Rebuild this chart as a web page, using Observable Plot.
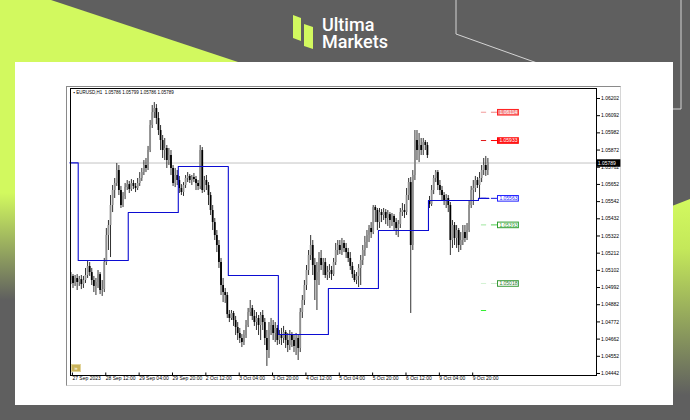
<!DOCTYPE html>
<html><head><meta charset="utf-8">
<script src="https://cdn.jsdelivr.net/npm/d3@7"></script>
<script src="https://cdn.jsdelivr.net/npm/@observablehq/plot@0.6"></script>
<style>
html,body{margin:0;padding:0;background:#5f5f5f;}
#stage{position:relative;width:690px;height:420px;overflow:hidden;background:#5f5f5f;}
#bg{position:absolute;left:0;top:0;}
#panel{position:absolute;left:15px;top:62px;width:658px;height:343px;background:#fff;}
#win{position:absolute;left:66px;top:86px;width:555px;height:300px;border:1px solid #d6d6d6;border-top-color:#8a8a8a;border-left-color:#8a8a8a;box-sizing:border-box;}
#chart{position:absolute;left:66px;top:84px;}
#icon{position:absolute;left:71px;top:364px;width:10px;height:8px;background:#c9b35c;border:1px solid #e2d49a;box-sizing:border-box;color:#fff;font:6px/6px 'Liberation Sans',sans-serif;text-align:center;}
</style></head>
<body>
<div id="stage">
<svg id="bg" width="690" height="420">
  <defs>
    <linearGradient id="gl" x1="0" y1="62" x2="0" y2="300" gradientUnits="userSpaceOnUse">
      <stop offset="0" stop-color="#d2f95f"/><stop offset="0.55" stop-color="#d2f95f"/><stop offset="1" stop-color="#5f5f5f"/>
    </linearGradient>
    <linearGradient id="gr" x1="0" y1="200" x2="0" y2="395" gradientUnits="userSpaceOnUse">
      <stop offset="0" stop-color="#d2f95f"/><stop offset="0.25" stop-color="#c4e85a"/><stop offset="1" stop-color="#5f5f5f"/>
    </linearGradient>
  </defs>
  <rect width="690" height="420" fill="#5f5f5f"/>
  <polygon points="0,0 51,0 238,62 0,62" fill="#d2f95f"/>
  <rect x="0" y="62" width="16" height="358" fill="url(#gl)"/>
  <polygon points="672,206 690,199 690,420 672,420" fill="url(#gr)"/>
  <polyline points="456,0 456,34 540,64" fill="none" stroke="#d4d4d4" stroke-width="1"/>
  <polyline points="681,0 681,109 672,109" fill="none" stroke="#d4d4d4" stroke-width="1"/>
  <polygon points="293,15 301,18 301,41 293,38" fill="#d2f95f"/>
  <polygon points="304,24 313,27 313,49 304,46" fill="#d2f95f"/>
  <text fill="#fff" font-family="Roboto, 'Liberation Sans', sans-serif" font-size="18" font-weight="500"><tspan x="322" y="31">Ultima</tspan><tspan x="322" y="48">Markets</tspan></text>
</svg>
<div id="panel"></div>
<div id="win"></div>
<div id="chart"></div>
<div id="icon">»</div>
</div>
<script>
// ---- data: EURUSD H1, bar index 0 = 27 Sep 2023 20:00 ----
const openP = [
1.05037,1.05063,1.05018,1.05050,1.05024,1.05043,1.05011,1.05037,1.05069,1.05127,
1.05088,1.05037,1.04999,1.05024,1.05075,1.04973,1.04979,1.05152,1.05325,1.05389,
1.05517,1.05613,1.05658,1.05741,1.05613,1.05517,1.05575,1.05632,1.05651,1.05619,
1.05658,1.05639,1.05626,1.05658,1.05690,1.05728,1.05773,1.05754,1.05869,1.06029,
1.06112,1.06138,1.06074,1.05997,1.05933,1.05869,1.05882,1.05805,1.05837,1.05754,
1.05658,1.05709,1.05677,1.05626,1.05600,1.05645,1.05690,1.05703,1.05677,1.05696,
1.05683,1.05658,1.05639,1.05869,1.05613,1.05677,1.05645,1.05581,1.05485,1.05408,
1.05325,1.05261,1.05152,1.05005,1.04960,1.04941,1.04819,1.04794,1.04826,1.04781,
1.04736,1.04698,1.04666,1.04640,1.04685,1.04749,1.04832,1.04858,1.04807,1.04768,
1.04794,1.04749,1.04813,1.04768,1.04666,1.04589,1.04717,1.04749,1.04698,1.04730,
1.04653,1.04685,1.04666,1.04704,1.04653,1.04621,1.04685,1.04653,1.04615,1.04666,
1.04602,1.04832,1.04909,1.05005,1.05101,1.05197,1.05261,1.05133,1.05037,1.05088,
1.05178,1.05133,1.05152,1.05069,1.05088,1.05101,1.05075,1.05152,1.05229,1.05261,
1.05229,1.05274,1.05242,1.05216,1.05178,1.05127,1.05075,1.05037,1.05063,1.05114,
1.05165,1.05229,1.05280,1.05325,1.05370,1.05344,1.05504,1.05485,1.05408,1.05472,
1.05453,1.05472,1.05434,1.05459,1.05421,1.05447,1.05408,1.05370,1.05395,1.05472,
1.05485,1.05472,1.05581,1.05664,1.05261,1.05709,1.05933,1.05869,1.05901,1.05869,
1.05920,1.05901,1.05549,1.05523,1.05613,1.05690,1.05728,1.05645,1.05613,1.05581,
1.05549,1.05562,1.05517,1.05293,1.05389,1.05306,1.05357,1.05261,1.05293,1.05344,
1.05306,1.05357,1.05517,1.05613,1.05626,1.05677,1.05645,1.05690,1.05741,1.05773,
1.05741];
const highP = [
1.05088,1.05075,1.05069,1.05075,1.05063,1.05069,1.05063,1.05114,1.05165,1.05152,
1.05114,1.05063,1.05050,1.05101,1.05088,1.05037,1.05178,1.05370,1.05421,1.05581,
1.05645,1.05690,1.05786,1.05773,1.05639,1.05600,1.05658,1.05677,1.05671,1.05683,
1.05677,1.05658,1.05690,1.05728,1.05754,1.05805,1.05818,1.05895,1.06061,1.06157,
1.06176,1.06163,1.06112,1.06029,1.05965,1.05946,1.05901,1.05882,1.05869,1.05773,
1.05754,1.05741,1.05703,1.05651,1.05664,1.05709,1.05728,1.05715,1.05709,1.05722,
1.05703,1.05677,1.05901,1.05888,1.05703,1.05709,1.05664,1.05600,1.05517,1.05434,
1.05357,1.05293,1.05178,1.05050,1.04986,1.04960,1.04845,1.04845,1.04839,1.04807,
1.04768,1.04730,1.04691,1.04717,1.04781,1.04858,1.04909,1.04877,1.04845,1.04832,
1.04813,1.04832,1.04845,1.04794,1.04717,1.04768,1.04794,1.04781,1.04768,1.04749,
1.04717,1.04730,1.04743,1.04717,1.04698,1.04717,1.04704,1.04685,1.04698,1.04685,
1.04858,1.04941,1.05037,1.05133,1.05229,1.05325,1.05293,1.05178,1.05152,1.05216,
1.05229,1.05178,1.05178,1.05127,1.05139,1.05127,1.05178,1.05274,1.05293,1.05293,
1.05306,1.05293,1.05274,1.05242,1.05216,1.05152,1.05101,1.05088,1.05139,1.05197,
1.05261,1.05319,1.05357,1.05389,1.05408,1.05517,1.05517,1.05498,1.05498,1.05491,
1.05498,1.05491,1.05485,1.05472,1.05466,1.05459,1.05434,1.05421,1.05498,1.05530,
1.05523,1.05626,1.05690,1.05696,1.05741,1.05997,1.05997,1.05978,1.05946,1.05946,
1.05933,1.05920,1.05575,1.05645,1.05709,1.05741,1.05741,1.05677,1.05639,1.05600,
1.05587,1.05581,1.05536,1.05421,1.05408,1.05389,1.05370,1.05344,1.05389,1.05389,
1.05402,1.05549,1.05639,1.05677,1.05703,1.05696,1.05728,1.05773,1.05818,1.05831,
1.05818];
const lowP = [
1.05011,1.04986,1.04999,1.04973,1.04999,1.04979,1.04986,1.05018,1.05050,1.05063,
1.05005,1.04960,1.04941,1.04986,1.04947,1.04935,1.04960,1.05133,1.05229,1.05184,
1.05472,1.05562,1.05639,1.05581,1.05498,1.05504,1.05555,1.05613,1.05594,1.05607,
1.05619,1.05600,1.05613,1.05639,1.05671,1.05709,1.05728,1.05741,1.05856,1.06010,
1.06074,1.06035,1.05965,1.05869,1.05818,1.05805,1.05754,1.05773,1.05709,1.05639,
1.05632,1.05645,1.05594,1.05581,1.05575,1.05626,1.05664,1.05658,1.05645,1.05664,
1.05613,1.05613,1.05619,1.05594,1.05600,1.05613,1.05517,1.05453,1.05357,1.05293,
1.05216,1.05114,1.04941,1.04896,1.04890,1.04794,1.04768,1.04781,1.04743,1.04685,
1.04653,1.04634,1.04608,1.04621,1.04666,1.04736,1.04807,1.04781,1.04743,1.04717,
1.04685,1.04653,1.04717,1.04621,1.04487,1.04538,1.04685,1.04653,1.04640,1.04621,
1.04627,1.04621,1.04634,1.04602,1.04576,1.04589,1.04608,1.04576,1.04557,1.04525,
1.04576,1.04794,1.04877,1.04973,1.05069,1.05165,1.05069,1.04909,1.04845,1.05005,
1.05101,1.05069,1.05050,1.05037,1.05050,1.05037,1.05063,1.05133,1.05197,1.05203,
1.05197,1.05216,1.05178,1.05152,1.05101,1.05050,1.05024,1.05011,1.04992,1.05005,
1.05133,1.05191,1.05242,1.05280,1.05306,1.05331,1.05408,1.05357,1.05370,1.05408,
1.05421,1.05395,1.05383,1.05370,1.05383,1.05357,1.05325,1.05312,1.05370,1.05447,
1.05434,1.05453,1.05549,1.04826,1.05229,1.05677,1.05805,1.05792,1.05837,1.05837,
1.05869,1.05818,1.05498,1.05511,1.05587,1.05664,1.05613,1.05581,1.05549,1.05517,
1.05498,1.05472,1.05197,1.05242,1.05261,1.05242,1.05216,1.05229,1.05261,1.05280,
1.05293,1.05344,1.05498,1.05517,1.05600,1.05626,1.05562,1.05664,1.05709,1.05703,
1.05709];
const closeP = [
1.05063,1.05018,1.05050,1.05024,1.05043,1.05011,1.05037,1.05069,1.05127,1.05088,
1.05037,1.04999,1.05024,1.05075,1.04973,1.04979,1.05152,1.05325,1.05389,1.05517,
1.05613,1.05658,1.05741,1.05613,1.05517,1.05575,1.05632,1.05651,1.05619,1.05658,
1.05639,1.05626,1.05658,1.05690,1.05728,1.05773,1.05754,1.05869,1.06029,1.06112,
1.06138,1.06074,1.05997,1.05933,1.05869,1.05882,1.05805,1.05837,1.05754,1.05658,
1.05709,1.05677,1.05626,1.05600,1.05645,1.05690,1.05703,1.05677,1.05696,1.05683,
1.05658,1.05639,1.05869,1.05613,1.05677,1.05645,1.05581,1.05485,1.05408,1.05325,
1.05261,1.05152,1.05005,1.04960,1.04941,1.04819,1.04794,1.04826,1.04781,1.04736,
1.04698,1.04666,1.04640,1.04685,1.04749,1.04832,1.04858,1.04807,1.04768,1.04794,
1.04749,1.04813,1.04768,1.04666,1.04589,1.04717,1.04749,1.04698,1.04730,1.04653,
1.04685,1.04666,1.04704,1.04653,1.04621,1.04685,1.04653,1.04615,1.04666,1.04602,
1.04832,1.04909,1.05005,1.05101,1.05197,1.05261,1.05133,1.05037,1.05088,1.05178,
1.05133,1.05152,1.05069,1.05088,1.05101,1.05075,1.05152,1.05229,1.05261,1.05229,
1.05274,1.05242,1.05216,1.05178,1.05127,1.05075,1.05037,1.05063,1.05114,1.05165,
1.05229,1.05280,1.05325,1.05370,1.05344,1.05504,1.05485,1.05408,1.05472,1.05453,
1.05472,1.05434,1.05459,1.05421,1.05447,1.05408,1.05370,1.05395,1.05472,1.05485,
1.05472,1.05581,1.05664,1.05261,1.05709,1.05933,1.05869,1.05901,1.05869,1.05920,
1.05901,1.05837,1.05523,1.05613,1.05690,1.05728,1.05645,1.05613,1.05581,1.05549,
1.05562,1.05517,1.05293,1.05389,1.05306,1.05357,1.05261,1.05293,1.05344,1.05306,
1.05357,1.05517,1.05613,1.05626,1.05677,1.05645,1.05690,1.05741,1.05773,1.05741,
1.05789];

// daily level (blue step line): first bar index of each day and its level
const dayStartBar = [0, 4, 28, 52, 76, 100, 124, 148, 172, 196];
const dayLevel = [1.05790, 1.05165, 1.05472, 1.05767, 1.05069, 1.04691, 1.04986, 1.05357, 1.05549, 1.05563];

// horizontal levels on the right
const levelPrice = [1.06114, 1.05933, 1.05563, 1.05393, 1.05018, 1.04845];
const levelText  = ["1.06114", "1.05933", "1.05563", "1.05393", "1.05018", ""];

const currentPrice = 1.05789;
const yTicks = [1.06202,1.06092,1.05982,1.05872,1.05762,1.05652,1.05542,1.05432,1.05322,1.05212,1.05102,1.04992,1.04882,1.04772,1.04662,1.04552,1.04442];
const xTickBars = [0,16,32,48,64,80,96,112,128,144,160,176,192];
const xTickLabels = ["27 Sep 2023","28 Sep 12:00","29 Sep 04:00","29 Sep 20:00","2 Oct 12:00","3 Oct 04:00","3 Oct 20:00","4 Oct 12:00","5 Oct 04:00","5 Oct 20:00","6 Oct 12:00","9 Oct 04:00","9 Oct 20:00"];
const headerText = "\u25AA EURUSD,H1  1.05786 1.05799 1.05786 1.05789";

// ---- styles (not data) ----
const levelStyle = [
  {d1:"#f29a9a", d2:"#f08080", border:"#ff2020", fill:"#f48a8a", text:"#ffffff"},
  {d1:"#e01818", d2:"#ff0000", border:"#ff0000", fill:"#ff1a1a", text:"#ffffff"},
  {d1:"#1414d8", d2:"#1414e0", border:"#2020ff", fill:"#ffffff", text:"#1a1aff"},
  {d1:"#9fe69f", d2:"#4ccc4c", border:"#2f9e2f", fill:"#ffffff", text:"#2f9e2f"},
  {d1:"#d3f2d3", d2:"#cdeccd", border:"#3a9a3a", fill:"#ffffff", text:"#2a7a2a"},
  {d1:"#33f033", d2:"none", border:"none", fill:"none", text:"none"}
];

const bars = openP.map((o, i) => ({i, open: o, high: highP[i], low: lowP[i], close: closeP[i]}));
const bluePts = dayStartBar.map((b, k) => ({x: b - 0.5, y: dayLevel[k]}));
bluePts.push({x: bars.length - 0.5, y: dayLevel[dayLevel.length - 1]});
const lvl = levelPrice.map((p, k) => ({p, label: levelText[k], s: levelStyle[k]}));
const boxed = lvl.filter(d => d.label);

const chart = Plot.plot({
  width: 560, height: 305,
  marginLeft: 4, marginTop: 4, marginRight: 30, marginBottom: 14,
  x: {domain: [-0.2, 252.1], label: null},
  y: {domain: [1.04429, 1.06266], label: null},
  style: {fontFamily: "'Liberation Sans', Arial, sans-serif", fontSize: "5px", background: "transparent", overflow: "visible", color: "#000"},
  marks: [
    Plot.ruleY([currentPrice], {stroke: "#c4c4c4", strokeWidth: 1}),
    Plot.ruleX(bars, {x: "i", y1: "low", y2: "high", stroke: "#1a1a1a", strokeWidth: 0.9}),
    Plot.ruleX(bars, {x: "i", y1: "open", y2: "close", stroke: d => d.close < d.open ? "#000000" : "#8f8f8f", strokeWidth: 1.8}),
    Plot.line(bluePts, {x: "x", y: "y", curve: "step-after", stroke: "#0c0cd2", strokeWidth: 1.1}),
    Plot.ruleY(lvl, {y: "p", x1: 196.9, x2: 199.4, stroke: d => d.s.d1, strokeWidth: 1}),
    Plot.ruleY(boxed, {y: "p", x1: 201.7, x2: 204.6, stroke: d => d.s.d2, strokeWidth: 1}),
    Plot.ruleY(boxed, {y: "p", x1: 204.6, x2: 215.1, stroke: d => d.s.border, strokeWidth: 6.6}),
    Plot.ruleY(boxed, {y: "p", x1: 204.6, x2: 215.1, stroke: d => d.s.fill, strokeWidth: 4.6, insetLeft: 1, insetRight: 1}),
    Plot.text(boxed, {x: 209.85, y: "p", text: "label", fill: d => d.s.text, fontSize: 5}),
    Plot.frame({stroke: "#000"}),
    Plot.axisY(yTicks, {anchor: "right", tickSize: 3, tickPadding: 1.5, tickFormat: d => d.toFixed(5), fontSize: 5}),
    Plot.axisX(xTickBars, {anchor: "bottom", tickSize: 3, tickPadding: 0, tickFormat: d => xTickLabels[xTickBars.indexOf(d)], textAnchor: "start", dx: 1.5, dy: -2.5, fontSize: 5}),
    Plot.ruleY([currentPrice], {x1: 252.2, x2: 263.8, stroke: "#000", strokeWidth: 7.5}),
    Plot.text([currentPrice], {x: 252.7, y: d => d, text: d => d.toFixed(5), fill: "#fff", textAnchor: "start", fontSize: 5}),
    Plot.text([headerText], {frameAnchor: "top-left", dx: 3, dy: 2.5, lineAnchor: "top", textAnchor: "start", fontSize: 4.5, fill: "#000"})
  ]
});
document.getElementById("chart").appendChild(chart);
</script>
</body></html>
